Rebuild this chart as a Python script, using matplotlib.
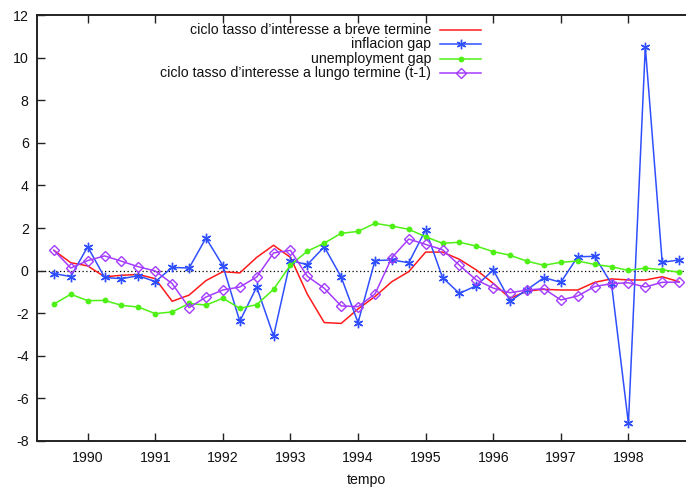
import numpy as np
import matplotlib
matplotlib.use("Agg")
import matplotlib.pyplot as plt
from matplotlib.lines import Line2D

plt.rcParams['font.family'] = ['Liberation Sans', 'DejaVu Sans']

# Quarterly observations, 1989 Q3 .. 1998 Q4
start_year = 1989.5
n_quarters = 38
tempo = start_year + 0.25 * np.arange(n_quarters)

breve = [0.95, 0.37, 0.22, -0.29, -0.22, -0.18, -0.38, -1.44, -1.15, -0.47,
         -0.05, -0.11, 0.62, 1.19, 0.62, -1.11, -2.44, -2.48, -1.80, -1.22,
         -0.52, -0.05, 0.87, 0.87, 0.53, 0.03, -0.60, -1.30, -0.96, -0.88,
         -0.91, -0.91, -0.55, -0.39, -0.44, -0.44, -0.29, -0.52]

inflazione = [-0.14, -0.28, 1.12, -0.32, -0.38, -0.24, -0.52, 0.15, 0.12, 1.53,
              0.23, -2.38, -0.77, -3.07, 0.47, 0.28, 1.12, -0.30, -2.44, 0.47,
              0.50, 0.37, 1.91, -0.33, -1.07, -0.71, 0.03, -1.43, -0.90, -0.33,
              -0.55, 0.65, 0.67, -0.62, -7.17, 10.51, 0.39, 0.50]

disoccupazione = [-1.57, -1.11, -1.41, -1.40, -1.63, -1.71, -2.02, -1.94, -1.54, -1.62,
                  -1.30, -1.77, -1.60, -0.88, 0.26, 0.91, 1.29, 1.75, 1.84, 2.22,
                  2.09, 1.94, 1.59, 1.28, 1.33, 1.15, 0.89, 0.72, 0.44, 0.25,
                  0.39, 0.45, 0.29, 0.18, 0.01, 0.12, 0.04, -0.08]

lungo = [0.95, 0.12, 0.47, 0.69, 0.44, 0.18, -0.02, -0.61, -1.74, -1.24,
         -0.91, -0.77, -0.30, 0.83, 0.95, -0.27, -0.83, -1.66, -1.69, -1.10,
         0.61, 1.48, 1.23, 0.98, 0.25, -0.44, -0.82, -1.04, -0.91, -0.85,
         -1.38, -1.19, -0.75, -0.61, -0.57, -0.77, -0.55, -0.54]

labels = ["ciclo tasso d\u2019interesse a breve termine",
          "inflacion gap",
          "unemployment gap",
          "ciclo tasso d\u2019interesse a lungo termine (t-1)"]

year_ticks = list(range(1990, 1999))
y_ticks = list(range(-8, 13, 2))

RED = '#ff1a1a'
BLUE = '#2f4fff'
GREEN = '#4ef015'
PURPLE = '#a43cff'
ASTER = (6, 2, 0)

W, H = 686, 487
fig = plt.figure(figsize=(W / 100, H / 100), dpi=100)

x0, x1 = 37, 696
y_top, y_bot = 15, 441
ax = fig.add_axes([x0 / W, (H - y_bot) / H, (x1 - x0) / W, (y_bot - y_top) / H])

ax.set_xlim(1989.25, 1999.0)
ax.set_ylim(-8, 12)

ax.axhline(0, color='black', lw=0.9, ls=(0, (1, 2)), zorder=1)

styles = [
    dict(color=RED, lw=1.1, marker=None),
    dict(color=BLUE, lw=1.1, marker=ASTER, ms=6.8, mew=1.0),
    dict(color=GREEN, lw=1.1, marker='o', ms=4.2, mew=0.0),
    dict(color=PURPLE, lw=1.1, marker='D', ms=5.2, mew=1.0, mfc='none'),
]
series = [breve, inflazione, disoccupazione, lungo]
for vals, st in zip(series, styles):
    ax.plot(tempo, vals, clip_on=True, zorder=3, **st)

ax.set_xticks(year_ticks)
ax.set_xticklabels([str(y) for y in year_ticks])
ax.set_yticks(y_ticks)
ax.set_yticklabels([str(v) for v in y_ticks])
ax.tick_params(direction='in', length=6, width=1.0, color='#222222',
               top=True, right=True, labelsize=10.2, labelcolor='#111111')
ax.tick_params(axis='x', pad=7)
ax.tick_params(axis='y', pad=6)

for side, sp in ax.spines.items():
    sp.set_color('#222222')
    sp.set_linewidth(1.4)

ax.set_xlabel('tempo', fontsize=10.2, color='#111111', labelpad=6)

# key in the upper part of the plot, text right-aligned with line samples
key_text_x = 431
key_line = (440, 481)
key_rows = [30, 44, 59, 73]
for lab, st, yy in zip(labels, styles, key_rows):
    fy = 1 - yy / H
    fig.text(key_text_x / W, fy, lab, ha='right', va='center', fontsize=10.2,
             color='#111111')
    st2 = dict(st)
    mk = st2.pop('marker')
    fig.add_artist(Line2D([key_line[0] / W, key_line[1] / W], [fy, fy],
                          transform=fig.transFigure, color=st2['color'], lw=st2['lw']))
    if mk is not None:
        fig.add_artist(Line2D([(key_line[0] + key_line[1]) / 2 / W], [fy],
                              transform=fig.transFigure, color=st2['color'],
                              marker=mk, ms=st2['ms'], mew=st2['mew'],
                              mfc=st2.get('mfc', st2['color']), lw=0))

fig.savefig('out.png', dpi=100)
